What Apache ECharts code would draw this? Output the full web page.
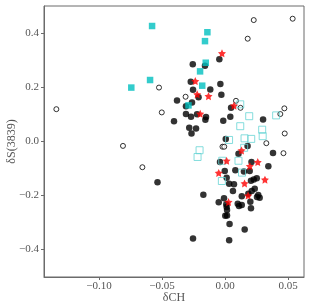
<!DOCTYPE html>
<html><head><meta charset="utf-8">
<script src="https://cdn.jsdelivr.net/npm/echarts@6/dist/echarts.min.js"></script>
<style>html,body{margin:0;padding:0;background:#fff}#c{width:311px;height:308px}</style>
</head><body><div id="c"></div>
<script>
const xTicks = [-0.10, -0.05, 0.00, 0.05];
const yTicks = [-0.4, -0.2, 0.0, 0.2, 0.4];

const blackFilled = [
[-0.0045,0.304],[-0.0256,0.285],[-0.0159,0.280],[-0.0272,0.221],[-0.0037,0.212],
[-0.0254,0.191],[-0.0117,0.192],[-0.0210,0.163],[-0.0029,0.172],[-0.0381,0.151],
[-0.0262,0.144],[-0.0310,0.130],[0.0048,0.124],[-0.0310,0.101],[-0.0270,0.091],
[-0.0222,0.100],[-0.0151,0.090],[-0.0156,0.080],[0.0042,0.091],[0.0302,0.081],
[-0.0405,0.074],[-0.0014,0.076],[-0.0284,0.050],[-0.0230,0.047],[-0.0266,0.029],
[0.0006,0.009],[0.0179,-0.017],[0.0107,-0.046],[0.0381,-0.043],[-0.0536,-0.152],
[-0.0040,-0.077],[-0.0002,-0.110],[0.0013,-0.135],[0.0033,-0.157],[0.0071,-0.159],
[-0.0172,-0.198],[-0.0008,-0.211],[-0.0050,-0.226],[0.0010,-0.233],[0.0016,-0.254],
[0.0002,-0.276],[0.0016,-0.275],[0.0036,-0.306],[-0.0254,-0.360],[0.0033,-0.366],
[0.0210,-0.077],[0.0344,-0.092],[0.0196,-0.110],[0.0082,-0.107],[0.0252,-0.137],
[0.0228,-0.141],[0.0206,-0.146],[0.0236,-0.176],[0.0212,-0.184],[0.0063,-0.184],
[0.0185,-0.194],[0.0264,-0.199],[0.0254,-0.206],[0.0275,-0.209],[0.0133,-0.203],
[0.0201,-0.224],[0.0101,-0.231],[0.0111,-0.240],[0.0133,-0.236],[0.0013,-0.243],
[0.0206,-0.248],[0.0156,-0.327],[0.0150,-0.112]
];
const openCircles = [
[0.0228,0.449],[0.0537,0.454],[0.0180,0.380],[-0.0524,0.199],[-0.0502,0.107],
[-0.1339,0.119],[-0.0810,-0.017],[-0.0656,-0.096],[-0.0313,0.165],[0.0087,0.150],
[0.0123,0.124],[0.0471,0.122],[0.0439,0.101],[0.0474,0.029],[0.0328,-0.007],
[-0.0020,-0.020],[-0.0006,-0.020],[0.0464,-0.044]
];
const cyanFilled = [
[-0.0579,0.427],[-0.0595,0.227],[-0.0744,0.199],[-0.0140,0.404],[-0.0159,0.371],
[-0.0153,0.291],[-0.0198,0.259],[-0.0181,0.206],[-0.0290,0.133]
];
const cyanOpen = [
[0.0121,0.137],[0.0192,0.093],[0.0406,0.096],[0.0121,0.056],[0.0295,0.043],
[0.0299,0.019],[0.0032,0.005],[0.0155,0.011],[0.0208,0.009],[0.0152,-0.024],
[-0.0202,-0.033],[-0.0218,-0.058],[-0.0022,-0.072],[0.0107,-0.072],[0.0135,-0.116],
[-0.0025,-0.147]
];
const redStars = [
[-0.0024,0.326],[-0.0236,0.223],[-0.0221,0.174],[-0.0131,0.167],[0.0071,0.132],
[-0.0197,0.102],[0.0131,-0.034],[0.0013,-0.072],[0.0260,-0.077],[0.0197,-0.092],
[-0.0050,-0.117],[0.0317,-0.142],[0.0155,-0.156],[0.0183,-0.201],[0.0028,-0.225]
];

const FONT = '"Liberation Serif", "DejaVu Serif", serif';
const fmt = d => v => (v < 0 ? '\u2212' : '') + Math.abs(v).toFixed(d);
const chart = echarts.init(document.getElementById('c'), null, {renderer: 'canvas'});
chart.setOption({
  animation: false,
  grid: {left: 44, top: 6, width: 260, height: 271, show: true, borderColor: '#6b6b6b', borderWidth: 1,
         containLabel: false, outerBoundsMode: 'none'},
  xAxis: {
    type: 'value', min: -0.1437, max: 0.0627,
    name: 'δCH', nameLocation: 'middle', nameGap: 15, nameMoveOverlap: false,
    nameTextStyle: {fontFamily: FONT, fontSize: 12, color: '#555'},
    splitLine: {show: false},
    axisLine: {show: true, onZero: false, lineStyle: {color: '#6b6b6b', width: 1}},
    axisTick: {show: true, length: 3, inside: false, lineStyle: {color: '#6b6b6b'}, customValues: xTicks},
    axisLabel: {fontFamily: FONT, fontSize: 11, color: '#555', margin: 4, customValues: xTicks, formatter: fmt(2)}
  },
  yAxis: {
    type: 'value', min: -0.5025, max: 0.5011,
    name: 'δS(3839)', nameLocation: 'middle', nameGap: 26, nameRotate: 90, nameMoveOverlap: false,
    nameTextStyle: {fontFamily: FONT, fontSize: 12, color: '#555'},
    splitLine: {show: false},
    axisLine: {show: true, onZero: false, lineStyle: {color: '#6b6b6b', width: 1}},
    axisTick: {show: true, length: 3, inside: false, lineStyle: {color: '#6b6b6b'}, customValues: yTicks},
    axisLabel: {fontFamily: FONT, fontSize: 11, color: '#555', margin: 5, customValues: yTicks, formatter: fmt(1)}
  },
  series: [
    {type: 'scatter', data: openCircles, symbol: 'circle', symbolSize: 5,
     itemStyle: {color: '#fff', borderColor: '#000', borderWidth: 1}, z: 2},
    {type: 'scatter', data: blackFilled, symbol: 'circle', symbolSize: 6.5,
     itemStyle: {color: '#000'}, z: 3},
    {type: 'scatter', data: cyanOpen, symbol: 'rect', symbolSize: 7,
     itemStyle: {color: 'rgba(0,0,0,0)', borderColor: '#66d4d4', borderWidth: 1}, z: 4},
    {type: 'scatter', data: cyanFilled, symbol: 'rect', symbolSize: 6.5,
     itemStyle: {color: '#00bfbf'}, z: 5},
    {type: 'scatter', data: redStars, symbol: 'path://M0,-10 L2.94,-4.05 L9.51,-3.09 L4.76,1.55 L5.88,8.09 L0,5 L-5.88,8.09 L-4.76,1.55 L-9.51,-3.09 L-2.94,-4.05 Z', symbolSize: 8,
     itemStyle: {color: '#ff0000'}, z: 6}
  ]
});
</script></body></html>
